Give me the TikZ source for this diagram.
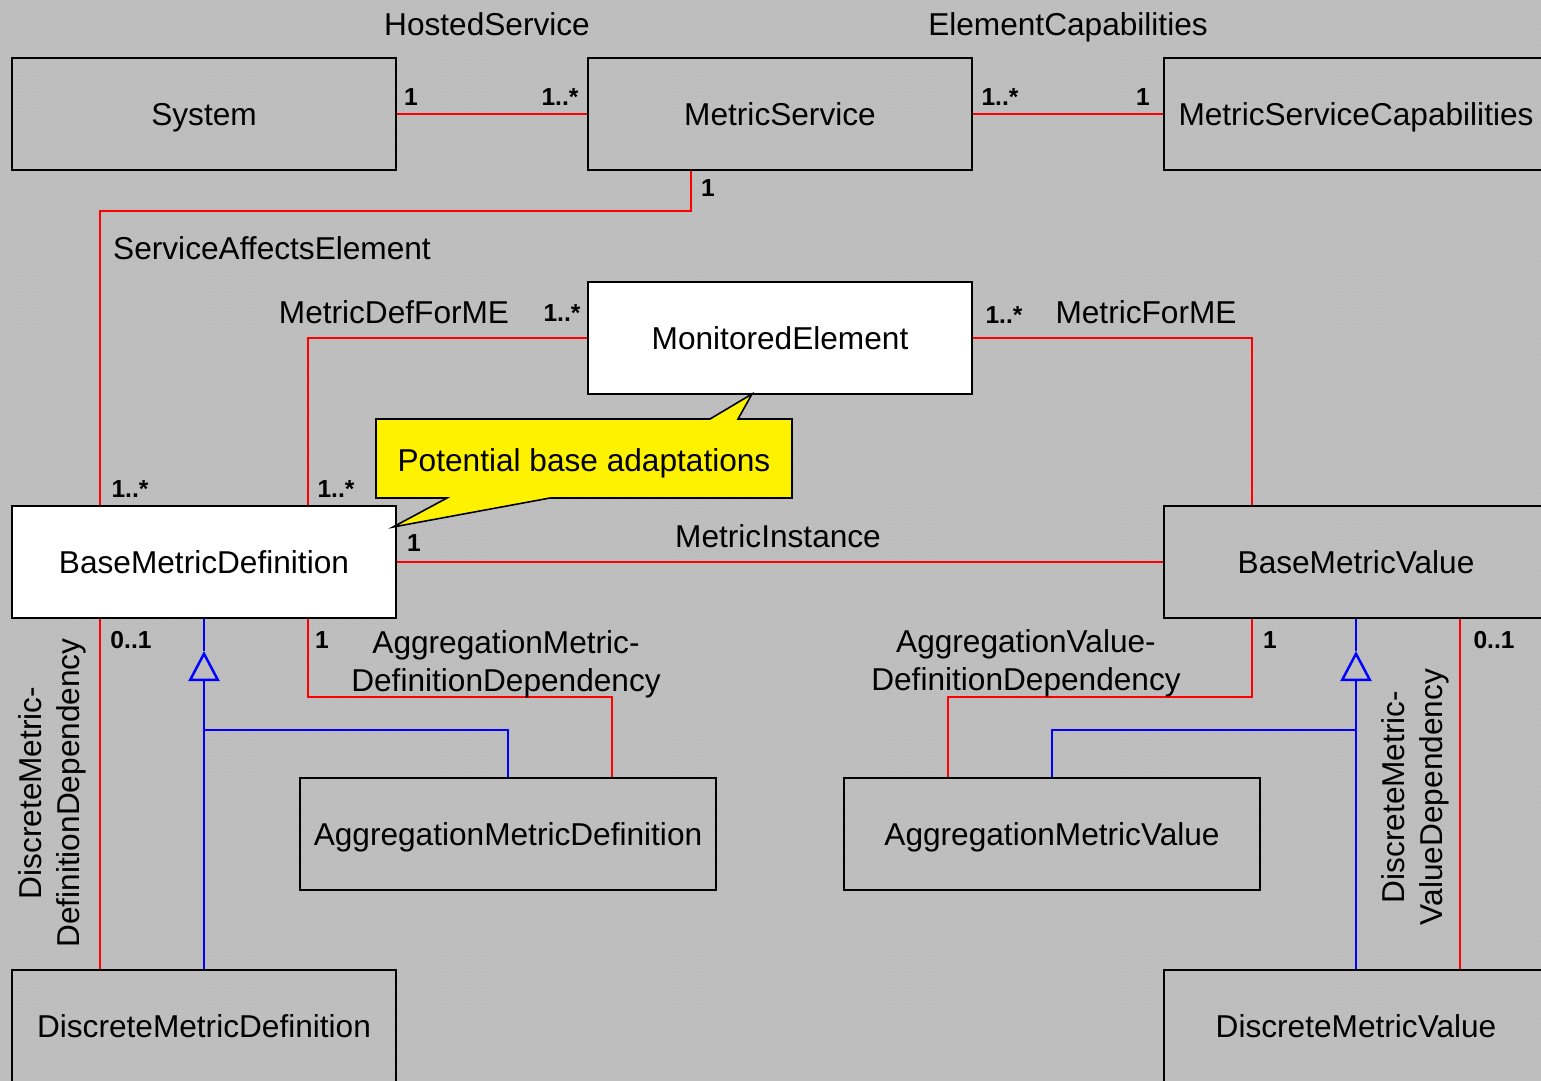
\documentclass[tikz,border=0pt]{standalone}
\usepackage{fontspec}
\setmainfont{Liberation Sans}
\usepackage{tikz}
\usetikzlibrary{arrows.meta}
\usetikzlibrary{patterns}
\colorlet{assoc}{red}
\colorlet{inherit}{blue}
\colorlet{backdrop}{black!26}

\begin{document}
\begin{tikzpicture}[
x=0.02cm, y=-0.02cm,
ClassBox/.style={draw=black,line width=1.1pt,minimum width=7.68cm,minimum height=2.24cm,inner sep=0pt,
  text height=12.9pt,text depth=0pt,font=\fontsize{18}{21.6}\selectfont},
WhiteBox/.style={ClassBox,fill=white},
WideBox/.style={ClassBox,minimum width=8.32cm},
Assoc/.style={draw=assoc,line width=1.2pt},
Inherit/.style={draw=inherit,line width=1.4pt},
Gen/.style={-{Triangle[open,length=0.6cm,width=0.62cm]}},
RoleName/.style={font=\fontsize{18}{21.6}\selectfont,inner sep=0pt,text height=12.9pt,text depth=0pt},
RoleBlock/.style={font=\fontsize{18}{21.6}\selectfont,inner sep=0pt,align=center},
Mult/.style={font=\fontsize{14}{16}\selectfont\bfseries,inner sep=0pt},
Callout/.style={fill=yellow,draw=black,line width=0.9pt,line join=miter}
]
%\draw[step=100,gray,dotted] (0,0) grid (1541,1080);
\useasboundingbox (0,0) rectangle (1541,1080);
\clip (0,0) rectangle (1541,1080);
\fill[backdrop] (0,0) rectangle (1541,1080);
\fill[pattern=grid,pattern color=white!75!black] (0,0) rectangle (1541,1080);

\coordinate (LegA) at (100,0);
\coordinate (LegB) at (308,0);
\coordinate (LegC) at (1252,0);
\coordinate (LegD) at (1460,0);
\coordinate (SaeBend) at (691,211);
\coordinate (AggDefBend) at (612,697);
\coordinate (AggValBend) at (948,697);
\coordinate (DefTip) at (204,651);
\coordinate (ValTip) at (1356,651);
\coordinate (DefJoin) at (204,730);
\coordinate (ValJoin) at (1356,730);

\node[ClassBox] (System) at (204,114) {System};
\node[ClassBox] (MetricService) at (780,114) {MetricService};
\node[ClassBox] (MetricServiceCapabilities) at (1356,114) {MetricServiceCapabilities};
\node[WhiteBox] (MonitoredElement) at (780,338) {MonitoredElement};
\node[WhiteBox] (BaseMetricDefinition) at (204,562) {BaseMetricDefinition};
\node[ClassBox] (BaseMetricValue) at (1356,562) {BaseMetricValue};
\node[WideBox] (AggregationMetricDefinition) at (508,834) {AggregationMetricDefinition};
\node[WideBox] (AggregationMetricValue) at (1052,834) {AggregationMetricValue};
\node[ClassBox] (DiscreteMetricDefinition) at (204,1026) {DiscreteMetricDefinition};
\node[ClassBox] (DiscreteMetricValue) at (1356,1026) {DiscreteMetricValue};

% associations
\draw[Assoc] (System.east) -- (MetricService.west);
\draw[Assoc] (MetricService.east) -- (MetricServiceCapabilities.west);
\draw[Assoc] (MetricService.south -| SaeBend) -- (SaeBend) -| (BaseMetricDefinition.north -| LegA);
\draw[Assoc] (MonitoredElement.west) -| (BaseMetricDefinition.north -| LegB);
\draw[Assoc] (MonitoredElement.east) -| (BaseMetricValue.north -| LegC);
\draw[Assoc] (BaseMetricDefinition.east) -- (BaseMetricValue.west);
\draw[Assoc] (BaseMetricDefinition.south -| LegB) |- (AggDefBend) -- (AggregationMetricDefinition.north -| AggDefBend);
\draw[Assoc] (BaseMetricValue.south -| LegC) |- (AggValBend) -- (AggregationMetricValue.north -| AggValBend);
\draw[Assoc] (BaseMetricDefinition.south -| LegA) -- (DiscreteMetricDefinition.north -| LegA);
\draw[Assoc] (BaseMetricValue.south -| LegD) -- (DiscreteMetricValue.north -| LegD);

% generalisations
\draw[Inherit] (BaseMetricDefinition.south) -- (DefTip);
\draw[Inherit,Gen] (DiscreteMetricDefinition.north) -- (DefTip);
\draw[Inherit] (AggregationMetricDefinition.north) |- (DefJoin);
\draw[Inherit] (BaseMetricValue.south) -- (ValTip);
\draw[Inherit,Gen] (DiscreteMetricValue.north) -- (ValTip);
\draw[Inherit] (AggregationMetricValue.north) |- (ValJoin);

% association names
\node[RoleName] (HostedService) at (487,24) {HostedService};
\node[RoleName] (ElementCapabilities) at (1068,24) {ElementCapabilities};
\node[RoleName] (ServiceAffectsElement) at (272,248) {ServiceAffectsElement};
\node[RoleName] (MetricDefForME) at (394,312) {MetricDefForME};
\node[RoleName] (MetricForME) at (1146,312) {MetricForME};
\node[RoleName] (MetricInstance) at (778,536) {MetricInstance};
\node[RoleBlock] (AggDefDep) at (506,664) {AggregationMetric-\\DefinitionDependency};
\node[RoleBlock] (AggValDep) at (1026,663) {AggregationValue-\\DefinitionDependency};
\node[RoleBlock,rotate=90] (DiscDefDep) at (52,793) {DiscreteMetric-\\DefinitionDependency};
\node[RoleBlock,rotate=90] (DiscValDep) at (1415,797) {DiscreteMetric-\\ValueDependency};

% multiplicities
\node[Mult] (MultHostA) at (411,97) {1};
\node[Mult] (MultHostB) at (560,97) {1..*};
\node[Mult] (MultCapA) at (1000,97) {1..*};
\node[Mult] (MultCapB) at (1143,97) {1};
\node[Mult] (MultSaeA) at (708,188) {1};
\node[Mult] (MultSaeB) at (130,489) {1..*};
\node[Mult] (MultDefMeA) at (562,313) {1..*};
\node[Mult] (MultDefMeB) at (336,489) {1..*};
\node[Mult] (MultValMe) at (1004,315) {1..*};
\node[Mult] (MultInst) at (414,543) {1};
\node[Mult] (MultDiscDef) at (131,640) {0..1};
\node[Mult] (MultAggDef) at (322,640) {1};
\node[Mult] (MultAggVal) at (1270,640) {1};
\node[Mult] (MultDiscVal) at (1494,640) {0..1};

% note
\filldraw[Callout] (376,419) -- (710,419) -- (752,394) -- (738,419) -- (792,419) -- (792,498)
  -- (550,498) -- (393,527) -- (447,498) -- (376,498) -- cycle;
\node[RoleName] (Note) at (584,460) {Potential base adaptations};

\end{tikzpicture}
\end{document}
